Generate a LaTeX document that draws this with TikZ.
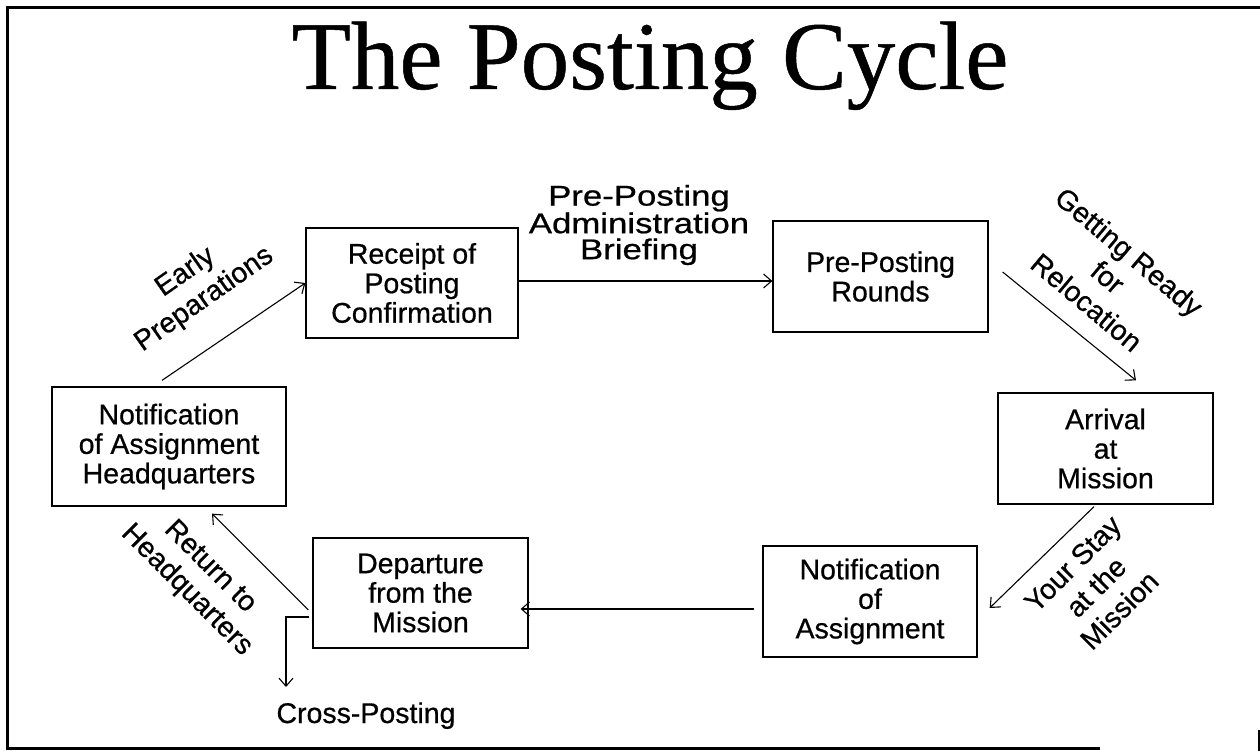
\documentclass[tikz,border=0pt]{standalone}
\usepackage{fontspec}
\setmainfont[FakeBold=0.6]{Liberation Sans}
\newfontfamily\titlefont[FakeBold=0.5]{Liberation Serif}
\newfontfamily\widefont[FakeStretch=1.22,FakeBold=0.7]{Liberation Sans}
\usetikzlibrary{arrows.meta}
\begin{document}
\begin{tikzpicture}[x=1pt,y=-1pt,
  stage/.style={draw, line width=1.3pt, align=center, inner sep=0pt,
    font=\fontsize{28.5pt}{29.5pt}\selectfont},
  lbl/.style={align=center, inner sep=0pt, font=\fontsize{28.5pt}{33pt}\selectfont},
  flow/.style={line width=1.1pt, -{Straight Barb[length=8pt,width=14pt,line width=1.1pt]}},
  frameline/.style={line width=3pt}]
\useasboundingbox (0,0) rectangle (1260,751);
% frame
\draw[frameline] (1260,8) -- (7,8) -- (7,748) -- (1100,748);
\draw[line width=2pt] (1258.8,730) -- (1258.8,751);
% title
\node[anchor=base, inner sep=0pt, font=\titlefont\fontsize{97pt}{97pt}\selectfont] (title) at (650,89) {The Posting Cycle};
% stages
\node[stage, minimum width=234pt, minimum height=119pt] (hq) at (169,446.5) {Notification\\of Assignment\\Headquarters};
\node[stage, minimum width=212pt, minimum height=110pt] (rec) at (412,283) {Receipt of\\Posting\\Confirmation};
\node[stage, minimum width=215pt, minimum height=111pt] (ppr) at (880.5,276.5) {Pre-Posting\\Rounds};
\node[stage, minimum width=215pt, minimum height=111pt] (arr) at (1105.5,448.5) {Arrival\\at\\Mission};
\node[stage, minimum width=214pt, minimum height=111pt] (noa) at (870,601.5) {Notification\\of\\Assignment};
\node[stage, minimum width=215pt, minimum height=110pt] (dep) at (420.5,593) {Departure\\from the\\Mission};
\node[lbl, anchor=base] (cross) at (366,723) {Cross-Posting};
% labels
\node[lbl, rotate=35] (l1) at (195,286) {Early\\Preparations};
\node[align=center, inner sep=0pt, font=\widefont\fontsize{28.5pt}{26pt}\selectfont] (l2) at (639,225) {Pre-Posting\\Administration\\Briefing};
\node[lbl, rotate=-40] (l3) at (1108,277) {Getting Ready\\for\\Relocation};
\node[lbl, rotate=45] (l4) at (1096,587) {Your Stay\\at the\\Mission};
\node[lbl, rotate=-45] (l5) at (198,579) {Return to\\Headquarters};
% connectors
\draw[flow] ([xshift=-7pt,yshift=6pt]hq.north) -- (rec.west);
\draw[flow] ([yshift=2pt]rec.east) -- ([yshift=2pt]rec.east -| ppr.west);
\draw[flow] ([xshift=14pt,yshift=4.5pt]ppr.east) -- ([xshift=30.5pt,yshift=12pt]arr.north);
\draw[flow] ([xshift=-11.5pt,yshift=-2pt]arr.south) -- ([xshift=12pt,yshift=-6.5pt]noa.east);
\draw[flow] ([xshift=-8pt,yshift=-7.5pt]noa.west) -- ([xshift=-8pt,yshift=-7.5pt]noa.west -| dep.east);
\draw[flow] ([xshift=-4pt,yshift=-17pt]dep.west) -- ([xshift=43pt,yshift=-7pt]hq.south);
\coordinate (cpend) at (286,687);
\draw[flow] ([xshift=-3pt,yshift=-24pt]dep.west) -| (cpend);
\end{tikzpicture}
\end{document}
